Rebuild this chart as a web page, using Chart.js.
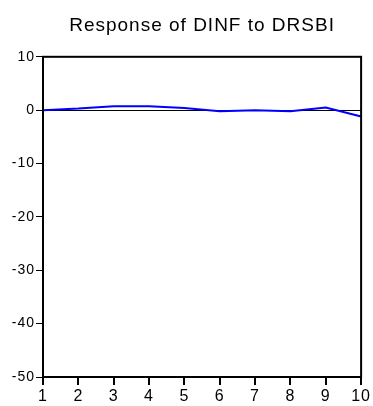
<!DOCTYPE html>
<html>
<head>
<meta charset="utf-8">
<script src="https://cdn.jsdelivr.net/npm/chart.js@4/dist/chart.umd.min.js"></script>
<style>
  html, body { margin: 0; padding: 0; background: #fff; }
  #wrap { width: 373px; height: 406px; }
</style>
</head>
<body>
<div id="wrap"><canvas id="irf"></canvas></div>
<script>
// impulse response periods and values
var periods = ['1', '2', '3', '4', '5', '6', '7', '8', '9', '10'];
var response = [0.0, 0.3, 0.75, 0.75, 0.4, -0.2, 0.0, -0.2, 0.5, -1.2];
var yTicks = [10, 0, -10, -20, -30, -40, -50];

var fontFam = '"Liberation Sans", Arial, Helvetica, sans-serif';

// slightly spaced text, like the EViews output
var spacingPlugin = {
    id: 'spacing',
    beforeLayout: function(chart) { chart.ctx.letterSpacing = '1px'; },
    beforeDraw: function(chart) { chart.ctx.letterSpacing = '1px'; }
};

// box round the plot area
var framePlugin = {
    id: 'frame',
    afterDraw: function(chart) {
        var a = chart.chartArea;
        var ctx = chart.ctx;
        ctx.save();
        ctx.strokeStyle = '#000';
        ctx.lineWidth = 2;
        ctx.strokeRect(a.left, a.top, a.right - a.left, a.bottom - a.top);
        ctx.restore();
    }
};

new Chart(document.getElementById('irf').getContext('2d'), {
    type: 'line',
    data: {
        labels: periods,
        datasets: [{
            data: response,
            borderColor: '#0000ff',
            borderWidth: 2,
            pointRadius: 0,
            tension: 0,
            fill: false
        }]
    },
    options: {
        responsive: true,
        maintainAspectRatio: false,
        animation: false,
        layout: { padding: { left: 0, right: 10, top: 0, bottom: 0 } },
        plugins: {
            legend: { display: false },
            tooltip: { enabled: false },
            title: {
                display: true,
                text: 'Response of DINF to DRSBI',
                color: '#000',
                fullSize: false,
                font: { family: fontFam, size: 19, weight: 'normal' },
                padding: { top: 14, bottom: 20 }
            }
        },
        scales: {
            x: {
                offset: false,
                grid: { drawOnChartArea: false, color: '#000', tickColor: '#000', tickLength: 8, lineWidth: 2 },
                border: { display: true, color: '#000', width: 2 },
                ticks: { color: '#000', padding: 2, maxRotation: 0, autoSkip: false,
                         font: { family: fontFam, size: 16 } },
                afterFit: function(s) { s.height = 29; }
            },
            y: {
                min: -50,
                max: 10,
                afterBuildTicks: function(s) {
                    s.ticks = yTicks.map(function(v) { return { value: v }; });
                },
                grid: {
                    color: function(c) { return c.tick && c.tick.value === 0 ? '#000' : 'rgba(0,0,0,0)'; },
                    tickColor: '#000',
                    tickLength: 7,
                    lineWidth: 1
                },
                border: { display: true, color: '#000', width: 2 },
                ticks: { color: '#000', padding: 1, font: { family: fontFam, size: 14 } },
                afterFit: function(s) { s.width = 43; }
            }
        }
    },
    plugins: [spacingPlugin, framePlugin]
});
</script>
</body>
</html>
